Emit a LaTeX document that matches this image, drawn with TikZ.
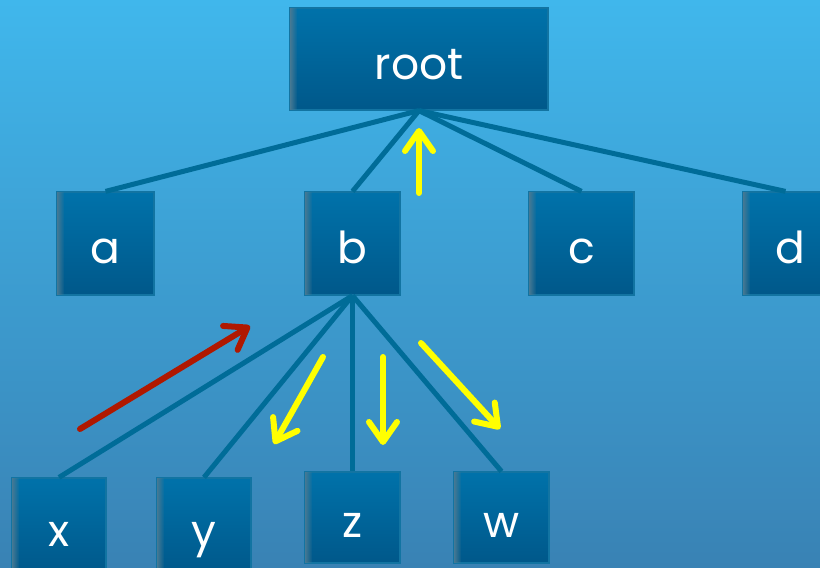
\documentclass[tikz,border=0pt]{standalone}
\usepackage{fontspec}
\setmainfont{Poppins}
\usetikzlibrary{arrows.meta,fadings}

\definecolor{bgtop}{RGB}{64,183,236}
\definecolor{bgbot}{RGB}{57,130,180}
\definecolor{boxtop}{RGB}{0,114,170}
\definecolor{boxbot}{RGB}{0,88,138}
\definecolor{boxedge}{RGB}{18,116,162}
\definecolor{edgeline}{RGB}{0,108,152}
\definecolor{hiyellow}{RGB}{255,255,0}
\definecolor{hired}{RGB}{176,24,0}

% label set on a baseline a little below the box centre
\newcommand{\boxlabel}[1]{\raisebox{-20pt}[0pt][0pt]{#1}}

\tikzset{
  treebox/.style={draw=boxedge, line width=1.2pt, top color=boxtop, bottom color=boxbot,
    text=white, inner sep=0pt, font=\fontsize{44}{44}\selectfont},
  edgestroke/.style={draw=edgeline, line width=5pt},
  movearrow/.style={line width=6pt, line cap=round, line join=round,
    -{Straight Barb[length=20pt, width=28pt, line cap=round, line join=round]}},
  sidestripe/.style={fill=gray!55!boxtop, path fading=east}
}

\begin{document}
\begin{tikzpicture}[x=1pt, y=-1pt]
  \useasboundingbox (0,0) rectangle (820,568);
  \clip (0,0) rectangle (820,568);
  \shade[top color=bgtop, bottom color=bgbot] (0,0) rectangle (820,568);

  % tree nodes
  \node[treebox, minimum width=258pt, minimum height=102pt] (root) at (419,59) {\boxlabel{root}};
  \node[treebox, minimum width=97pt, minimum height=103pt] (a) at (105.5,243.5) {\boxlabel{a}};
  \node[treebox, minimum width=95pt, minimum height=103pt] (b) at (352.5,243.5) {\boxlabel{b}};
  \node[treebox, minimum width=105pt, minimum height=103pt] (c) at (581.5,243.5) {\boxlabel{c}};
  \node[treebox, minimum width=95pt, minimum height=103pt] (d) at (790.5,243.5) {\boxlabel{d}};
  \node[treebox, minimum width=94pt, minimum height=96pt] (x) at (59,526) {\boxlabel{x}};
  \node[treebox, minimum width=94pt, minimum height=96pt] (y) at (204,526) {\boxlabel{y}};
  \node[treebox, minimum width=95pt, minimum height=91pt] (z) at (352.5,517.5) {\boxlabel{z}};
  \node[treebox, minimum width=95pt, minimum height=91pt] (w) at (501.5,517.5) {\boxlabel{w}};

  % soft grey shading along the left side of each box
  \foreach \n in {root,a,b,c,d,x,y,z,w}
    \fill[sidestripe] ([xshift=0.6pt,yshift=-0.6pt]\n.north west) rectangle ([xshift=8pt,yshift=0.6pt]\n.south west);

  % tree edges
  \foreach \n in {a,b,c}
    \draw[edgestroke] (root.south) -- (\n.north);
  \draw[edgestroke] (root.south) -- ([xshift=-5pt]d.north);
  \foreach \n in {x,y,z,w}
    \draw[edgestroke] (b.south) -- (\n.north);

  % traversal arrows
  \coordinate (upT) at (419,193);   \coordinate (upH) at (419,128);
  \coordinate (yT) at (323,357);    \coordinate (yH) at (274,444);
  \coordinate (zT) at (383,357);    \coordinate (zH) at (383,445);
  \coordinate (wT) at (421,343);    \coordinate (wH) at (500,429);
  \coordinate (rT) at (80,429);     \coordinate (rH) at (250,326);
  \draw[movearrow, hiyellow] (upT) -- (upH);
  \draw[movearrow, hiyellow] (yT) -- (yH);
  \draw[movearrow, hiyellow] (zT) -- (zH);
  \draw[movearrow, hiyellow] (wT) -- (wH);
  \draw[movearrow, hired] (rT) -- (rH);
\end{tikzpicture}
\end{document}
